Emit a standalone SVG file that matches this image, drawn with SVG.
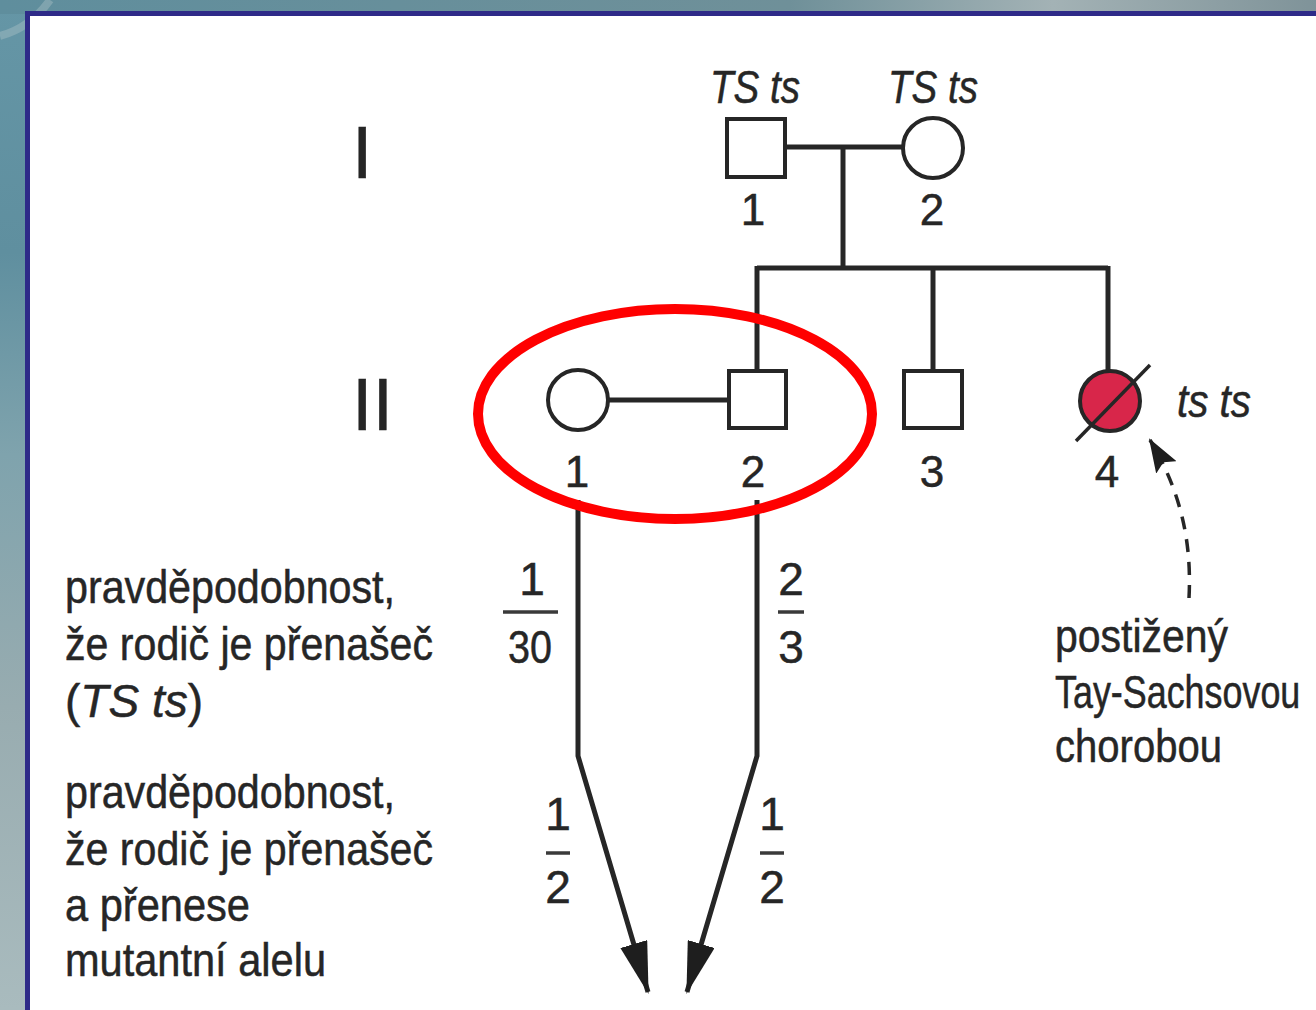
<svg xmlns="http://www.w3.org/2000/svg" width="1316" height="1010" viewBox="0 0 1316 1010">
  <style>
    .t { font-family: "Liberation Sans", Arial, sans-serif; fill: #262626; stroke: #262626; stroke-width: 0.5; }
    .it { font-style: italic; }
    .num { font-size: 44px; text-anchor: middle; }
    .lbl { font-size: 46px; }
    .gen { font-size: 74px; }
    .frac { font-size: 46px; text-anchor: middle; }
    .sym { fill: #ffffff; stroke: #262626; stroke-width: 4; }
    .ln { fill: none; stroke: #262626; stroke-width: 5; }
    .bar { stroke: #3a3a3a; stroke-width: 3.5; }
  </style>
  <defs>
    <linearGradient id="bg" x1="0" y1="0" x2="1" y2="1">
      <stop offset="0" stop-color="#5d8c9c"/>
      <stop offset="0.5" stop-color="#8fa4aa"/>
      <stop offset="1" stop-color="#a7b8bb"/>
    </linearGradient>
    <linearGradient id="bgTop" x1="0" y1="0" x2="1" y2="0">
      <stop offset="0" stop-color="#5f8e9d"/>
      <stop offset="0.6" stop-color="#6f9099"/>
      <stop offset="0.8" stop-color="#a3b2b5"/>
      <stop offset="1" stop-color="#7f9399"/>
    </linearGradient>
    <linearGradient id="bgLeft" x1="0" y1="0" x2="0" y2="1">
      <stop offset="0" stop-color="#6596a6"/>
      <stop offset="0.25" stop-color="#5f8f9f"/>
      <stop offset="0.45" stop-color="#7fa3ad"/>
      <stop offset="0.7" stop-color="#98acb0"/>
      <stop offset="1" stop-color="#a9bbbe"/>
    </linearGradient>
    <marker id="arrow" markerUnits="userSpaceOnUse" markerWidth="52" markerHeight="28" refX="50" refY="14" viewBox="0 0 52 28" orient="auto">
      <path d="M0,0 L52,14 L0,28 Z" fill="#1e1e1e"/>
    </marker>
    <marker id="arrowDash" markerUnits="userSpaceOnUse" markerWidth="34" markerHeight="24" refX="32" refY="12" viewBox="0 0 34 24" orient="auto">
      <path d="M0,0 L34,12 L0,24 L6,12 Z" fill="#1e1e1e"/>
    </marker>
  </defs>

  <!-- backdrop and framed panel -->
  <rect x="0" y="0" width="1316" height="1010" fill="url(#bg)"/>
  <rect x="0" y="0" width="30" height="1010" fill="url(#bgLeft)"/>
  <rect x="0" y="0" width="1316" height="14" fill="url(#bgTop)"/>
  <path d="M0,36 Q30,28 50,0" fill="none" stroke="#b9cacd" stroke-width="8" opacity="0.35"/>
  <rect x="27.5" y="13.5" width="1300" height="1010" fill="#ffffff" stroke="#2e2a88" stroke-width="5"/>

  <!-- generation numerals -->
  <g id="gen-labels">
    <text class="t gen" x="352" y="178">I</text>
    <text class="t gen" x="352" y="430">II</text>
  </g>

  <!-- connectors -->
  <g id="connectors">
    <path class="ln" d="M785,147 H903"/>
    <path class="ln" d="M843,147 V268"/>
    <path class="ln" d="M757,268 H1108"/>
    <path class="ln" d="M757,266 V370"/>
    <path class="ln" d="M933,266 V370"/>
    <path class="ln" d="M1108,266 V370"/>
    <path class="ln" d="M608,400 H729"/>
    <path class="ln" d="M578,500 V756 L648,992" stroke-width="4.5" marker-end="url(#arrow)"/>
    <path class="ln" d="M757,500 V756 L687,992" stroke-width="4.5" marker-end="url(#arrow)"/>
    <path d="M1189,598 C1192,540 1180,490 1150,440" fill="none" stroke="#262626" stroke-width="3.5" stroke-dasharray="13,10" marker-end="url(#arrowDash)"/>
  </g>

  <!-- generation I -->
  <g id="I-1">
    <text class="t it lbl" x="710" y="103" textLength="90" lengthAdjust="spacingAndGlyphs">TS ts</text>
    <rect class="sym" x="727" y="119" width="58" height="58"/>
    <text class="t num" x="753" y="225">1</text>
  </g>
  <g id="I-2">
    <text class="t it lbl" x="888" y="103" textLength="90" lengthAdjust="spacingAndGlyphs">TS ts</text>
    <circle class="sym" cx="933" cy="148" r="30"/>
    <text class="t num" x="932" y="225">2</text>
  </g>

  <!-- generation II -->
  <g id="II-1">
    <circle class="sym" cx="578" cy="400" r="30"/>
    <text class="t num" x="577" y="487">1</text>
  </g>
  <g id="II-2">
    <rect class="sym" x="729" y="371" width="57" height="57"/>
    <text class="t num" x="753" y="487">2</text>
  </g>
  <g id="II-3">
    <rect class="sym" x="904" y="371" width="58" height="57"/>
    <text class="t num" x="932" y="487">3</text>
  </g>
  <g id="II-4">
    <circle cx="1110" cy="401" r="30" fill="#d8264a" stroke="#262626" stroke-width="4"/>
    <line x1="1076" y1="441" x2="1150" y2="365" stroke="#262626" stroke-width="3.5"/>
    <text class="t it lbl" x="1177" y="417" textLength="74" lengthAdjust="spacingAndGlyphs">ts ts</text>
    <text class="t num" x="1107" y="487">4</text>
  </g>

  <!-- couple highlight -->
  <g id="highlight">
    <ellipse cx="675" cy="414" rx="197" ry="105" fill="none" stroke="#ff0000" stroke-width="10"/>
  </g>

  <!-- probabilities along the lines -->
  <g id="fractions">
    <text class="t frac" x="532" y="595">1</text>
    <line class="bar" x1="503" y1="612" x2="558" y2="612"/>
    <text class="t frac" x="530" y="663" textLength="44" lengthAdjust="spacingAndGlyphs">30</text>

    <text class="t frac" x="791" y="595">2</text>
    <line class="bar" x1="778" y1="612" x2="804" y2="612"/>
    <text class="t frac" x="791" y="663">3</text>

    <text class="t frac" x="558" y="830" font-size="42">1</text>
    <line class="bar" x1="546" y1="853" x2="570" y2="853"/>
    <text class="t frac" x="558" y="903" font-size="42">2</text>

    <text class="t frac" x="772" y="830" font-size="42">1</text>
    <line class="bar" x1="760" y1="853" x2="784" y2="853"/>
    <text class="t frac" x="772" y="903" font-size="42">2</text>
  </g>

  <!-- explanatory notes -->
  <g id="note-carrier">
    <text class="t lbl" x="65" y="603" textLength="330" lengthAdjust="spacingAndGlyphs">pravděpodobnost,</text>
    <text class="t lbl" x="65" y="660" textLength="368" lengthAdjust="spacingAndGlyphs">že rodič je přenašeč</text>
    <text class="t lbl" x="65" y="717">(<tspan class="it">TS ts</tspan>)</text>
  </g>
  <g id="note-transmit">
    <text class="t lbl" x="65" y="808" textLength="330" lengthAdjust="spacingAndGlyphs">pravděpodobnost,</text>
    <text class="t lbl" x="65" y="865" textLength="368" lengthAdjust="spacingAndGlyphs">že rodič je přenašeč</text>
    <text class="t lbl" x="65" y="921" textLength="185" lengthAdjust="spacingAndGlyphs">a přenese</text>
    <text class="t lbl" x="65" y="976" textLength="261" lengthAdjust="spacingAndGlyphs">mutantní alelu</text>
  </g>
  <g id="note-affected">
    <text class="t lbl" x="1055" y="652" textLength="173" lengthAdjust="spacingAndGlyphs">postižený</text>
    <text class="t lbl" transform="translate(1055,708) scale(0.78,1)" x="0" y="0">Tay-Sachsovou</text>
    <text class="t lbl" x="1055" y="762" textLength="167" lengthAdjust="spacingAndGlyphs">chorobou</text>
  </g>
</svg>
